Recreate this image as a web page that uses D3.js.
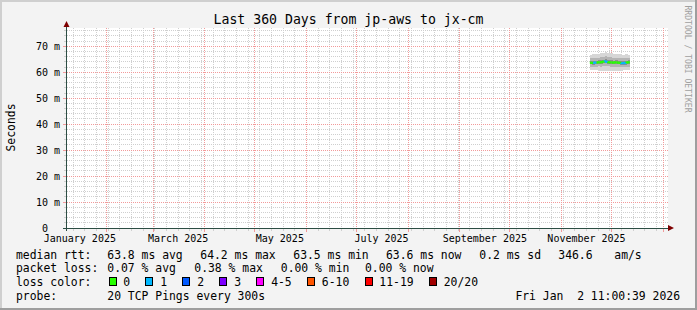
<!DOCTYPE html>
<html><head><meta charset="utf-8">
<script src="https://cdn.jsdelivr.net/npm/d3@7"></script>
<style>
html,body{margin:0;padding:0;background:#f3f3f3;}
svg{display:block;font-family:"DejaVu Sans Mono",monospace;}
text{white-space:pre;}
</style></head><body><svg id="c" width="697" height="310"></svg>
<script>
// ---------- data ----------
const title = "Last 360 Days from jp-aws to jx-cm";
const yAxisLabel = "Seconds";
const credit = "RRDTOOL / TOBI OETIKER";
const timeStart = "2025-01-08T00:00:00Z";
const timeEnd = "2026-01-03T00:00:00Z";
const yMax = 77.05;
const yMajorTicks = [0, 10, 20, 30, 40, 50, 60, 70];
const monthLabelStarts = ["2025-01-01", "2025-03-01", "2025-05-01", "2025-07-01", "2025-09-01", "2025-11-01"];

const dates = ["2025-11-18","2025-11-19","2025-11-20","2025-11-21","2025-11-22","2025-11-23","2025-11-24","2025-11-25",
  "2025-11-26","2025-11-27","2025-11-28","2025-11-29","2025-11-30","2025-12-01","2025-12-02","2025-12-03",
  "2025-12-04","2025-12-05","2025-12-06","2025-12-07","2025-12-08","2025-12-09","2025-12-10","2025-12-11"];
const median  = [63.7,63.6,63.6,63.7,63.7,63.8,63.8,63.9,64.1,64.2,64.0,63.9,63.8,63.8,63.7,63.8,63.8,63.7,63.6,63.5,63.5,63.6,63.7,63.8];
const lossCnt = [0,0,1,1,0,0,0,0,0,1,1,0,0,0,0,0,0,0,0,1,1,1,0,0];
const pingMax = [66.8,66.9,66.9,67.0,67.1,67.2,67.3,67.4,67.6,67.7,67.6,67.5,67.4,67.3,67.2,67.1,67.1,67.0,66.9,66.8,66.8,66.9,66.9,66.8];
const ping90  = [65.4,65.3,65.4,65.5,65.5,65.6,65.7,65.8,66.0,66.1,65.9,65.8,65.7,65.6,65.5,65.6,65.6,65.5,65.4,65.3,65.3,65.4,65.4,65.5];
const ping75  = [64.5,64.4,64.4,64.5,64.5,64.6,64.6,64.7,64.9,65.0,64.8,64.7,64.6,64.6,64.5,64.6,64.6,64.5,64.4,64.3,64.3,64.4,64.5,64.6];
const ping25  = [63.0,62.9,62.9,63.0,63.0,63.1,63.1,63.2,63.4,63.5,63.3,63.2,63.1,63.1,63.0,63.1,63.1,63.0,62.9,62.8,62.8,62.9,63.0,63.1];
const ping10  = [62.2,62.1,62.1,62.2,62.2,62.3,62.2,62.3,62.5,62.6,62.4,62.3,62.2,62.2,62.1,62.2,62.2,62.1,62.0,61.9,61.9,62.0,62.1,62.2];
const pingMin = [60.9,60.8,60.8,60.8,60.7,60.6,60.5,60.5,60.6,60.6,60.5,60.4,60.4,60.4,60.5,60.5,60.6,60.6,60.6,60.6,60.7,60.7,60.8,60.9];

const lossClasses = ["0", "1", "2", "3", "4-5", "6-10", "11-19", "20/20"];
const lossColors  = ["#26ff00", "#00b8ff", "#0059ff", "#7e00ff", "#ff00ff", "#ff5500", "#ff0000", "#a10000"];
const statNames = ["avg", "max", "min", "now"];
const rttStats  = [63.8, 64.2, 63.5, 63.6];
const rttSd = 0.2;
const rttAmps = 346.6;
const lossStats = [0.07, 0.38, 0.00, 0.00];
const probeText = "20 TCP Pings every 300s";
const dateStamp = "Fri Jan  2 11:00:39 2026";

// ---------- layout ----------
const W = 697, H = 310;
const L = 66.5, R = 666.5, T = 28, B = 228;
const gridMinor = "#cfcfcf", gridMajor = "#f29a9a", axisCol = "#2c4d43", arrowCol = "#7f0000";
const svg = d3.select("#c");

// background + 3D frame
svg.append("rect").attr("width", W).attr("height", H).attr("fill", "#f3f3f3");
svg.append("rect").attr("x", 0).attr("y", 0).attr("width", W).attr("height", 2).attr("fill", "#cfcfcf");
svg.append("rect").attr("x", 0).attr("y", 0).attr("width", 2).attr("height", H).attr("fill", "#cfcfcf");
svg.append("rect").attr("x", 0).attr("y", H - 2).attr("width", W).attr("height", 2).attr("fill", "#9e9e9e");
svg.append("rect").attr("x", W - 2).attr("y", 0).attr("width", 2).attr("height", H).attr("fill", "#9e9e9e");

// canvas
svg.append("rect").attr("x", 67).attr("y", T).attr("width", 601).attr("height", B - T).attr("fill", "#ffffff");

const x = d3.scaleUtc().domain([new Date(timeStart), new Date(timeEnd)]).range([L, R]);
const y = d3.scaleLinear().domain([0, yMax]).range([B, T]);
const snap = v => Math.floor(v) + 0.5;

const g = svg.append("g").attr("shape-rendering", "crispEdges");
// minor horizontal grid
const yMinor = d3.range(2, yMax, 2).filter(v => v % 10 !== 0);
yMinor.forEach(v => {
  const yy = snap(y(v));
  g.append("line").attr("x1", 67).attr("x2", 668).attr("y1", yy).attr("y2", yy)
    .attr("stroke", gridMinor).attr("stroke-dasharray", "1,1");
  g.append("line").attr("x1", 64).attr("x2", 67).attr("y1", yy).attr("y2", yy).attr("stroke", gridMinor);
});
// minor vertical grid (weeks)
const weeks = d3.utcSunday.range(new Date(timeStart), new Date(timeEnd));
weeks.forEach(d => {
  const xx = snap(x(d));
  g.append("line").attr("x1", xx).attr("x2", xx).attr("y1", T).attr("y2", B)
    .attr("stroke", gridMinor).attr("stroke-dasharray", "1,1");
  g.append("line").attr("x1", xx).attr("x2", xx).attr("y1", B).attr("y2", B + 3).attr("stroke", gridMinor);
});
// major horizontal grid
yMajorTicks.filter(v => v > 0).forEach(v => {
  const yy = snap(y(v));
  g.append("line").attr("x1", 67).attr("x2", 668).attr("y1", yy).attr("y2", yy)
    .attr("stroke", gridMajor).attr("stroke-dasharray", "1,1");
  g.append("line").attr("x1", 63).attr("x2", 67).attr("y1", yy).attr("y2", yy).attr("stroke", gridMajor);
});
// major vertical grid (months)
const months = d3.utcMonth.range(new Date(timeStart), new Date(timeEnd));
months.forEach(d => {
  const xx = snap(x(d));
  g.append("line").attr("x1", xx).attr("x2", xx).attr("y1", T).attr("y2", B)
    .attr("stroke", gridMajor).attr("stroke-dasharray", "1,1");
  g.append("line").attr("x1", xx).attr("x2", xx).attr("y1", B).attr("y2", B + 4).attr("stroke", gridMajor);
});

// ---------- smoke ----------
const day = i => new Date(dates[i] + "T00:00:00Z");
const dayEnd = i => d3.utcDay.offset(day(i), 1);
const bands = [
  [pingMin, pingMax, "#d6d6d6"],
  [ping10, ping90, "#b4b4b4"],
  [ping25, ping75, "#8e8e8e"]
];
const sg = svg.append("g").attr("shape-rendering", "crispEdges");
bands.forEach(([lo, hi, col]) => {
  sg.selectAll(null).data(dates).enter().append("rect")
    .attr("x", (d, i) => x(day(i)))
    .attr("width", (d, i) => x(dayEnd(i)) - x(day(i)) + 0.3)
    .attr("y", (d, i) => y(hi[i]))
    .attr("height", (d, i) => y(lo[i]) - y(hi[i]))
    .attr("fill", col);
});

// ---------- median line coloured by loss ----------
const lossIdx = c => c <= 0 ? 0 : c === 1 ? 1 : c === 2 ? 2 : c === 3 ? 3 : c <= 5 ? 4 : c <= 10 ? 5 : c <= 19 ? 6 : 7;
const mg = svg.append("g");
dates.forEach((d, i) => {
  const x0 = x(day(i)), x1 = x(dayEnd(i)), yy = y(median[i]);
  const yPrev = i > 0 ? y(median[i - 1]) : yy;
  mg.append("path")
    .attr("d", `M${x0},${yPrev}V${yy}H${x1}`)
    .attr("fill", "none").attr("stroke", lossColors[lossIdx(lossCnt[i])])
    .attr("stroke-width", 2.2);
});

// ---------- axes ----------
const ag = svg.append("g").attr("shape-rendering", "crispEdges");
ag.append("line").attr("x1", 66.5).attr("x2", 66.5).attr("y1", 25).attr("y2", B + 3).attr("stroke", axisCol);
ag.append("line").attr("x1", 63).attr("x2", 669).attr("y1", B + 0.5).attr("y2", B + 0.5).attr("stroke", axisCol);
svg.append("path").attr("d", "M63.5,27L69.5,27L66.5,21Z").attr("fill", arrowCol);
svg.append("path").attr("d", "M668,225L668,231L674,228Z").attr("fill", arrowCol);

// y tick labels
svg.selectAll(null).data(yMajorTicks).enter().append("text")
  .attr("x", v => v === 0 ? 48 : 60).attr("y", v => snap(y(v)) + 3.6)
  .attr("text-anchor", "end").attr("font-size", 10).attr("fill", "#000")
  .text(v => v === 0 ? "0" : `${v} m`);

// x tick labels (centered mid-month)
svg.selectAll(null).data(monthLabelStarts).enter().append("text")
  .attr("x", s => x(d3.utcDay.offset(new Date(s + "T00:00:00Z"), 15)))
  .attr("y", 241.5)
  .attr("text-anchor", "middle").attr("font-size", 10).attr("fill", "#000")
  .text(s => d3.utcFormat("%B %Y")(new Date(s + "T00:00:00Z")));

// title
svg.append("text").attr("x", 348.5).attr("y", 24).attr("text-anchor", "middle")
  .attr("font-size", 13.2).attr("fill", "#000").text(title);
// y axis label
svg.append("text").attr("transform", "translate(15,127.5) rotate(-90)")
  .attr("text-anchor", "middle").attr("font-size", 11.4).attr("fill", "#000").text(yAxisLabel);
// credit
svg.append("text").attr("transform", "translate(685,59) rotate(90)")
  .attr("text-anchor", "middle").attr("font-size", 8.1).attr("fill", "#a0a0a0").text(credit);

// ---------- legend ----------
const FS = 11.4;
const rowY = [258.5, 272.3, 286.1, 299.9];
const addText = (tx, ty, s, anchor) => svg.append("text").attr("x", tx).attr("y", ty)
  .attr("font-size", FS).attr("fill", "#000").attr("text-anchor", anchor || "start").text(s);

addText(16, rowY[0], "median rtt:");
const rttX = [107.3, 200.3, 293.3, 386];
rttStats.forEach((v, i) => addText(rttX[i], rowY[0], `${v.toFixed(1)} ms ${statNames[i]}`));
addText(479.3, rowY[0], `${rttSd.toFixed(1)} ms sd`);
addText(558.3, rowY[0], `${rttAmps.toFixed(1)}`);
addText(614.3, rowY[0], "am/s");

addText(16, rowY[1], "packet loss:");
const lossX = [107.3, 194.3, 280.8, 365];
lossStats.forEach((v, i) => addText(lossX[i], rowY[1], `${v.toFixed(2)} % ${statNames[i]}`));

addText(16, rowY[2], "loss color:");
let cx = 108.5;
lossClasses.forEach((c, i) => {
  svg.append("rect").attr("x", cx + 0.5).attr("y", 277.5).attr("width", 7).attr("height", 8)
    .attr("fill", lossColors[i]).attr("stroke", "#000").attr("stroke-width", 1).attr("shape-rendering", "crispEdges");
  const t = addText(cx + 14.8, rowY[2], c);
  cx = cx + 14.8 + t.node().getComputedTextLength() + 15.3;
});

addText(16, rowY[3], "probe:");
addText(107.3, rowY[3], probeText);
addText(680, rowY[3], dateStamp, "end");
</script></body></html>
